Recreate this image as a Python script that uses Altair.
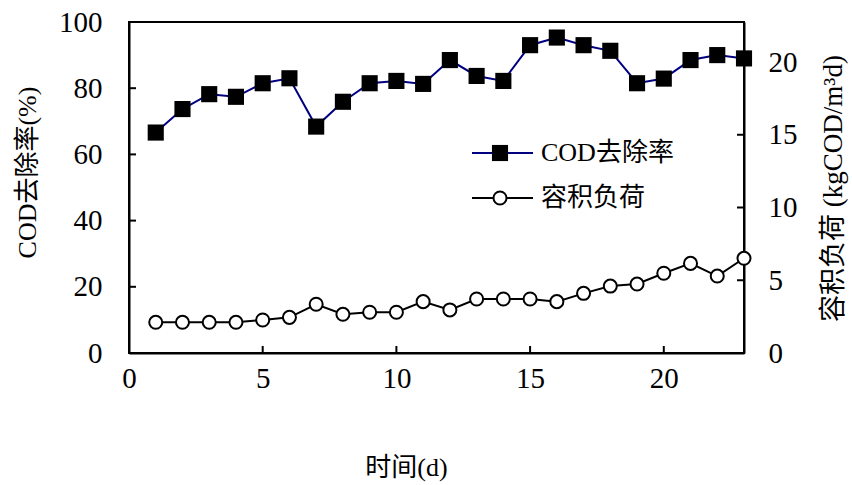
import altair as alt
import pandas as pd

days = list(range(1, 24))
cod_removal = [66.6, 73.7, 78.2, 77.4, 81.5, 83.0, 68.4, 75.9, 81.5, 82.2, 81.3, 88.5,
               83.7, 82.2, 93.0, 95.3, 93.0, 91.3, 81.5, 82.9, 88.5, 90.0, 89.0]
vol_load = [2.11, 2.11, 2.11, 2.11, 2.27, 2.45, 3.35, 2.66, 2.80, 2.80, 3.53, 2.96,
            3.71, 3.71, 3.71, 3.53, 4.10, 4.60, 4.74, 5.48, 6.16, 5.29, 6.51]
x_ticks = [0, 5, 10, 15, 20]
left_ticks = [0, 20, 40, 60, 80, 100]
right_ticks = [0, 5, 10, 15, 20]
legend_labels = ["COD去除率", "容积负荷"]

W, H = 615, 331
FONT = "Liberation Serif, Noto Sans CJK SC"
NAVY = "#000080"

df = pd.DataFrame({"day": days, "cod": cod_removal, "load": vol_load})

xscale = alt.Scale(domain=[0, 23], nice=False)
yl_scale = alt.Scale(domain=[0, 100], nice=False)
yr_scale = alt.Scale(domain=[0, 22.75], nice=False)

x_enc = alt.X("day:Q", scale=xscale,
              axis=alt.Axis(values=x_ticks, title="时间(d)", titleX=277, titleY=114,
                            titleAngle=0, titleAlign="center", titleBaseline="middle",
                            labelPadding=11, format="d", labelFlush=False))

base = alt.Chart(df)

cod_line = base.mark_line(color=NAVY, strokeWidth=2).encode(
    x=x_enc,
    y=alt.Y("cod:Q", scale=yl_scale,
            axis=alt.Axis(orient="left", values=left_ticks, title="COD去除率(%)",
                          titleAngle=270, titleX=-102, titleY=150, titleAlign="center",
                          titleBaseline="middle", labelPadding=27, labelFlush=False))
)
cod_pts = base.mark_point(shape="square", filled=True, color="black", size=260, opacity=1).encode(
    x=alt.X("day:Q", scale=xscale), y=alt.Y("cod:Q", scale=yl_scale)
)
xt_df = pd.DataFrame({"t": x_ticks[1:]})
x_tick_marks = alt.Chart(xt_df).mark_rule(color="black", strokeWidth=2).encode(
    x=alt.X("t:Q", scale=xscale), y=alt.value(H), y2=alt.value(H - 7)
)
lt_df = pd.DataFrame({"t": left_ticks[1:-1]})
l_tick_marks = alt.Chart(lt_df).mark_rule(color="black", strokeWidth=2).encode(
    y=alt.Y("t:Q", scale=yl_scale), x=alt.value(0), x2=alt.value(7)
)
left = alt.layer(cod_line, cod_pts, x_tick_marks, l_tick_marks)

load_line = base.mark_line(color="black", strokeWidth=2).encode(
    x=alt.X("day:Q", scale=xscale),
    y=alt.Y("load:Q", scale=yr_scale,
            axis=alt.Axis(orient="right", values=right_ticks, title="容积负荷 (kgCOD/m³d)",
                          titleAngle=270, titleX=89, titleY=166, titleAlign="center",
                          titleBaseline="middle", labelPadding=24, titleFontSize=27,
                          labelFlush=False))
)
load_pts = base.mark_point(shape="circle", filled=True, fill="white", stroke="black",
                           strokeWidth=2, size=170, opacity=1).encode(
    x=alt.X("day:Q", scale=xscale), y=alt.Y("load:Q", scale=yr_scale)
)
rt_df = pd.DataFrame({"t": right_ticks[1:]})
r_tick_marks = alt.Chart(rt_df).mark_rule(color="black", strokeWidth=2).encode(
    y=alt.Y("t:Q", scale=yr_scale), x=alt.value(W - 7), x2=alt.value(W)
)
right = alt.layer(load_line, load_pts, r_tick_marks)

one = alt.Data(values=[{"a": 1}])
leg = []
for i, (lbl, ly) in enumerate(zip(legend_labels, [131, 176])):
    col = NAVY if i == 0 else "black"
    leg.append(alt.Chart(one).mark_rule(color=col, strokeWidth=2).encode(
        x=alt.value(343), x2=alt.value(404), y=alt.value(ly)))
    if i == 0:
        leg.append(alt.Chart(one).mark_point(shape="square", filled=True, color="black",
                                             size=260, opacity=1).encode(
            x=alt.value(371), y=alt.value(ly)))
    else:
        leg.append(alt.Chart(one).mark_point(shape="circle", filled=True, fill="white",
                                             stroke="black", strokeWidth=2, size=170,
                                             opacity=1).encode(
            x=alt.value(371), y=alt.value(ly)))
    leg.append(alt.Chart(one).mark_text(text=lbl, font=FONT, fontSize=26, align="left",
                                        baseline="middle", color="black").encode(
        x=alt.value(412), y=alt.value(ly)))

chart = alt.layer(left, right, *leg).resolve_scale(y="independent").properties(
    width=W, height=H,
    autosize=alt.AutoSizeParams(type="none"),
    padding={"left": 129, "top": 22, "right": 108, "bottom": 132},
).configure_axis(
    labelFont=FONT, labelFontSize=29, labelColor="black",
    titleFont=FONT, titleFontSize=26, titleColor="black", titleFontWeight="normal",
    domainColor="black", domainWidth=2, tickSize=0, grid=False,
).configure_view(stroke="black", strokeWidth=2)

chart.save("out.html", embed_options={"renderer": "svg", "actions": False})
